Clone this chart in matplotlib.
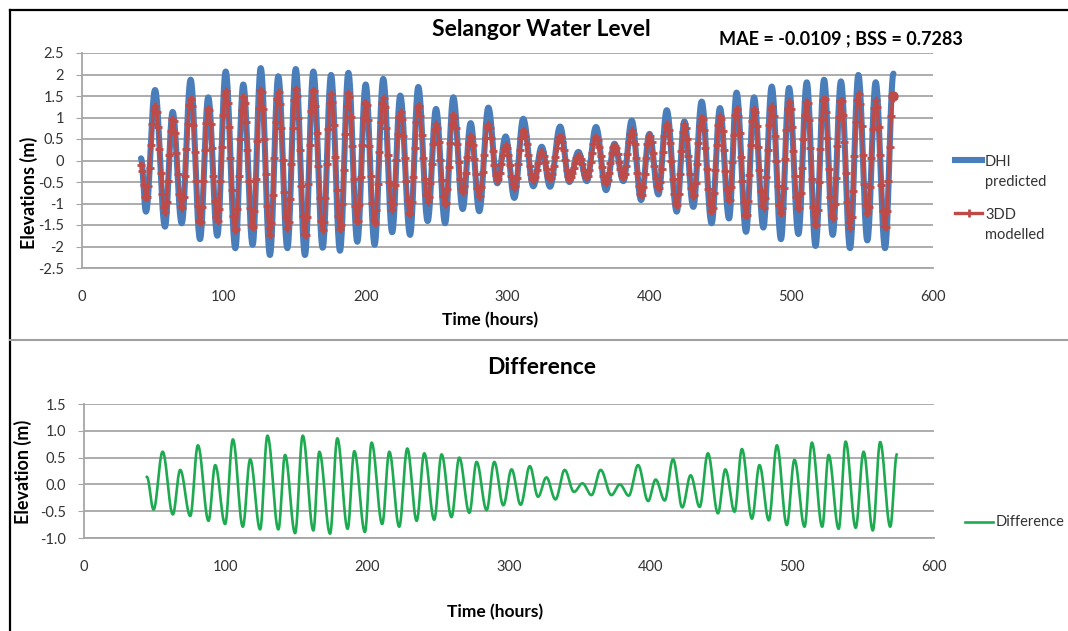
import numpy as np
import matplotlib
matplotlib.use("Agg")
import matplotlib.pyplot as plt
from matplotlib.lines import Line2D
from matplotlib.ticker import FormatStrFormatter

plt.rcParams['font.family'] = ['Lato', 'DejaVu Sans']

# Tide extremes (time in hours, elevation in m)
tide_t = np.array([
    41.6, 45.1, 51.5, 58.5, 63.9, 70.3, 76.6, 83.2, 89.0, 95.4, 101.3, 108.1,
    113.7, 120.3, 126.0, 132.5, 138.4, 144.8, 150.7, 157.2, 163.1, 169.7, 175.6,
    181.9, 187.8, 194.1, 200.0, 206.3, 212.4, 218.7, 224.4, 231.3, 237.1, 243.7,
    249.6, 256.0, 261.8, 268.4, 274.0, 280.1, 286.5, 292.8, 298.7, 304.8, 311.1, 318.2,
    324.1, 330.0, 337.1, 343.6, 350.0, 355.9, 362.4, 369.5, 375.4, 381.7, 387.6,
    394.2, 400.1, 406.4, 412.3, 419.3, 424.7, 431.0, 436.9, 443.9, 449.8, 456.2, 461.5,
    468.2, 473.8, 480.4, 486.3, 492.8, 498.5, 505.1, 511.0, 517.2, 523.2, 529.3,
    535.1, 541.5, 547.4, 553.7, 559.6, 566.2, 572.1])

dhi_predicted = np.array([
    0.05, -1.19, 1.64, -1.54, 1.13, -1.46, 1.88, -1.83, 1.47, -1.75, 2.07, -2.04,
    1.77, -1.96, 2.15, -2.20, 1.96, -2.04, 2.13, -2.20, 2.07, -2.03, 1.99,
    -2.10, 2.04, -1.89, 1.77, -1.96, 1.90, -1.67, 1.51, -1.73, 1.71, -1.41,
    1.20, -1.46, 1.47, -1.13, 0.87, -1.18, 1.23, -0.53, 0.56, -0.87, 0.97, -0.60,
    0.32, -0.61, 0.79, -0.50, 0.20, -0.48, 0.78, -0.69, 0.39, -0.48, 0.93,
    -0.92, 0.62, -0.79, 1.17, -1.19, 0.91, -1.08, 1.37, -1.46, 1.22, -1.35, 1.58,
    -1.66, 1.47, -1.56, 1.72, -1.83, 1.69, -1.71, 1.82, -1.99, 1.88, -1.73,
    1.84, -2.04, 1.99, -1.86, 1.82, -2.04, 2.02])

dd3_modelled = np.array([
    -0.11, -0.88, 1.28, -1.19, 0.97, -1.11, 1.44, -1.46, 1.24, -1.42, 1.63, -1.66,
    1.47, -1.58, 1.67, -1.73, 1.59, -1.58, 1.67, -1.77, 1.67, -1.62, 1.55,
    -1.62, 1.59, -1.46, 1.36, -1.46, 1.47, -1.15, 1.13, -1.27, 1.30, -0.96,
    0.86, -1.04, 1.06, -0.73, 0.59, -0.84, 0.86, -0.46, 0.35, -0.65, 0.70, -0.46,
    0.20, -0.42, 0.55, -0.42, 0.12, -0.38, 0.55, -0.53, 0.35, -0.38, 0.70,
    -0.81, 0.59, -0.65, 0.86, -1.04, 0.84, -0.84, 1.01, -1.19, 1.05, -0.96, 1.20,
    -1.31, 1.20, -1.11, 1.28, -1.23, 1.36, -1.15, 1.40, -1.54, 1.47, -1.35,
    1.44, -1.58, 1.55, -1.23, 1.40, -1.58, 1.50])

diff_t = np.array([
    44.4, 49.1, 55.5, 62.7, 67.9, 75.0, 80.4, 87.9, 92.6, 99.6,
    105.1, 112.1, 117.3, 124.3, 129.5, 137.2, 141.9, 149.0, 154.4, 161.9,
    166.1, 173.7, 178.8, 186.1, 190.8, 198.3, 203.0, 210.5, 215.5, 222.5,
    228.2, 234.8, 240.2, 247.2, 252.4, 259.4, 264.9, 272.0, 277.1, 284.2,
    289.6, 296.0, 301.8, 308.2, 314.7, 320.5, 326.4, 332.8, 339.3, 345.9,
    351.8, 358.2, 364.7, 372.3, 378.2, 384.5, 391.1, 398.2, 403.5, 409.9,
    415.8, 422.3, 428.2, 434.6, 440.4, 447.5, 452.7, 459.2, 464.4, 471.5,
    476.8, 483.4, 489.1, 496.1, 501.5, 508.6, 513.8, 521.1, 525.6, 532.7,
    537.6, 544.7, 550.3, 556.8, 562.0, 569.1, 573.8])

difference = np.array([
    0.14, -0.47, 0.61, -0.56, 0.27, -0.59, 0.73, -0.68, 0.36, -0.74,
    0.84, -0.79, 0.47, -0.84, 0.91, -0.84, 0.55, -0.91, 0.91, -0.86,
    0.61, -0.92, 0.86, -0.83, 0.62, -0.89, 0.78, -0.74, 0.61, -0.79,
    0.67, -0.68, 0.58, -0.66, 0.56, -0.61, 0.50, -0.53, 0.42, -0.48,
    0.42, -0.39, 0.28, -0.38, 0.34, -0.23, 0.13, -0.28, 0.27, -0.14,
    0.02, -0.20, 0.27, -0.20, 0.00, -0.21, 0.36, -0.31, 0.09, -0.30,
    0.47, -0.43, 0.17, -0.42, 0.58, -0.54, 0.28, -0.51, 0.66, -0.64,
    0.36, -0.67, 0.73, -0.76, 0.46, -0.79, 0.78, -0.79, 0.55, -0.83,
    0.80, -0.81, 0.61, -0.86, 0.79, -0.79, 0.56])


def tide_curve(t_ext, v_ext, step=0.25):
    # smooth half-cosine swing between the read extremes
    t = np.arange(t_ext[0], t_ext[-1] + 1e-9, step)
    i = np.clip(np.searchsorted(t_ext, t, side='right') - 1, 0, len(t_ext) - 2)
    f = (t - t_ext[i]) / (t_ext[i + 1] - t_ext[i])
    w = (1 - np.cos(np.pi * f)) / 2
    return t, v_ext[i] + (v_ext[i + 1] - v_ext[i]) * w


BLUE = '#4A7EBB'
RED = '#BE4B48'
GREEN = '#1EAA50'
GRID = '#A6A6A6'
TXT = '#333333'

W, H = 1068, 631
fig = plt.figure(figsize=(W / 100, H / 100), dpi=100)


def fx(px):
    return px / W


def fy(py):
    return 1 - py / H


def style(ax):
    ax.grid(axis='y', color=GRID, lw=1.3)
    ax.set_axisbelow(True)
    for s in ['top', 'right']:
        ax.spines[s].set_visible(False)
    ax.spines['left'].set_color(GRID)
    ax.spines['bottom'].set_color(GRID)
    ax.spines['left'].set_linewidth(1.3)
    ax.spines['bottom'].set_linewidth(1.3)
    ax.tick_params(axis='y', length=4, color=GRID, pad=9, labelsize=10.5, labelcolor=TXT)
    ax.tick_params(axis='x', length=0, labelsize=10.5, labelcolor=TXT)
    ax.set_xlim(0, 600)
    ax.set_xticks(np.arange(0, 601, 100))


# top panel
ax1 = fig.add_axes([fx(82), fy(268), fx(933) - fx(82), fy(53) - fy(268)])
style(ax1)
ax1.set_ylim(-2.5, 2.5)
ax1.set_yticks(np.arange(-2.5, 2.51, 0.5))
ax1.set_yticklabels(['-2.5', '-2', '-1.5', '-1', '-0.5', '0', '0.5', '1', '1.5', '2', '2.5'])
ax1.tick_params(axis='x', pad=16)

tb, yb = tide_curve(tide_t, dhi_predicted)
tr, yr = tide_curve(tide_t, dd3_modelled)
ax1.plot(tb, yb, color=BLUE, lw=4.4, solid_capstyle='round')
ax1.plot(tr, yr, color=RED, lw=2.4, marker='+', ms=5.5, mew=2.0, markevery=4)
ax1.plot(tr[-1:], yr[-1:], 'o', color=RED, ms=6.5)

ax1.set_ylabel('Elevations (m)', fontsize=13, fontweight='bold', color='black')
ax1.yaxis.set_label_coords(-0.052, 0.35)
ax1.set_xlabel('Time (hours)', fontsize=12.5, fontweight='bold', color='black')
ax1.xaxis.set_label_coords(0.479, -0.205)

# bottom panel
ax2 = fig.add_axes([fx(84), fy(538), fx(934) - fx(84), fy(404) - fy(538)])
style(ax2)
ax2.set_ylim(-1.0, 1.5)
ax2.set_yticks(np.arange(-1.0, 1.51, 0.5))
ax2.yaxis.set_major_formatter(FormatStrFormatter('%.1f'))
ax2.tick_params(axis='x', pad=16)

td, yd = tide_curve(diff_t, difference)
ax2.plot(td, yd, color=GREEN, lw=1.9)

ax2.set_ylabel('Elevation (m)', fontsize=13, fontweight='bold', color='black')
ax2.yaxis.set_label_coords(-0.061, 0.49)
ax2.set_xlabel('Time (hours)', fontsize=12.5, fontweight='bold', color='black')
ax2.xaxis.set_label_coords(0.4835, -0.49)

# titles
fig.text(fx(541), fy(29), 'Selangor Water Level', ha='center', va='center',
         fontsize=16.5, fontweight='bold')
fig.text(fx(841), fy(39), 'MAE = -0.0109 ; BSS = 0.7283', ha='center', va='center',
         fontsize=13, fontweight='bold',
         bbox=dict(facecolor='white', edgecolor='none', pad=2))
fig.text(fx(542), fy(367), 'Difference', ha='center', va='center',
         fontsize=16.5, fontweight='bold')

# legends
fig.add_artist(Line2D([fx(955), fx(982)], [fy(160), fy(160)], color=BLUE, lw=4.4,
                      transform=fig.transFigure))
fig.text(fx(985), fy(172), 'DHI\npredicted', ha='left', va='center', fontsize=10.5,
         color=TXT, linespacing=1.6)
fig.add_artist(Line2D([fx(955), fx(968.5), fx(982)], [fy(213)] * 3, color=RED, lw=2.4,
                      marker='+', ms=5.5, mew=2.0, markevery=[1],
                      transform=fig.transFigure))
fig.text(fx(985), fy(225), '3DD\nmodelled', ha='left', va='center', fontsize=10.5,
         color=TXT, linespacing=1.6)
fig.add_artist(Line2D([fx(965), fx(993)], [fy(522), fy(522)], color=GREEN, lw=1.9,
                      transform=fig.transFigure))
fig.text(fx(996), fy(522), 'Difference', ha='left', va='center', fontsize=10.5, color=TXT)

# frame lines
fig.add_artist(Line2D([fx(10), fx(10)], [0, fy(10)], color='black', lw=1.6,
                      transform=fig.transFigure))
fig.add_artist(Line2D([fx(10), 1], [fy(10), fy(10)], color='black', lw=1.6,
                      transform=fig.transFigure))
fig.add_artist(Line2D([fx(10), 1], [fy(340), fy(340)], color='#A0A0A0', lw=1.5,
                      transform=fig.transFigure))

fig.savefig('out.png', dpi=100)
